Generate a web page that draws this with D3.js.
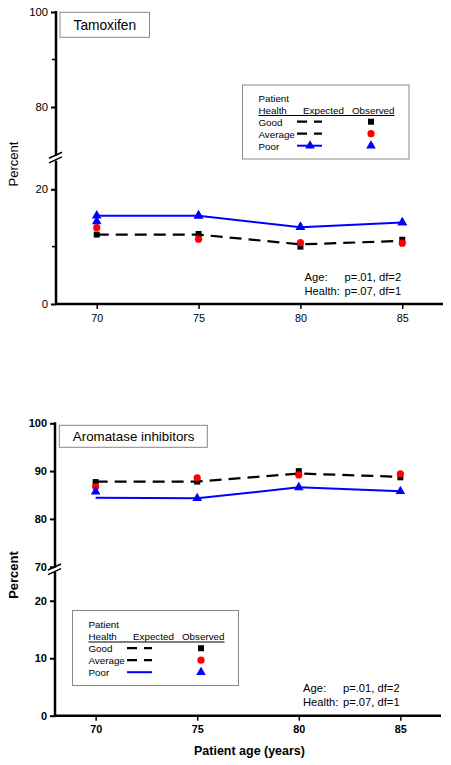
<!DOCTYPE html>
<html><head><meta charset="utf-8">
<script src="https://cdn.jsdelivr.net/npm/d3@7"></script>
<style>body{margin:0;background:#fff}svg{display:block;font-family:"Liberation Sans",Arial,sans-serif}</style>
</head><body><svg id="c" width="451" height="765"></svg>
<script>
// ---------- data ----------
const ages = [70, 75, 80, 85];
const xTicks = [70, 75, 80, 85];
const healthLabels = ["Good", "Average", "Poor"];
const statsLines = [["Age:", "p=.01, df=2"], ["Health:", "p=.07, df=1"]];

// Tamoxifen
const tamExpGoodAvg = [12.1, 12.1, 10.4, 11.0];
const tamExpPoor    = [15.4, 15.4, 13.4, 14.2];
const tamObsGood    = [12.1, 12.2, 10.0, 11.2];
const tamObsAverage = [13.3, 11.3, 10.7, 10.6];
const tamObsPoor    = [14.4, 15.4, 13.4, 14.2];
const tamTicksUpper = [100, 80];
const tamTicksUpperMinor = [90];
const tamTicksLower = [20, 0];
const tamTicksLowerMinor = [10];

// Aromatase inhibitors
const aiExpGoodAvg = [87.8, 87.8, 89.5, 88.8];
const aiExpPoor    = [84.4, 84.3, 86.6, 85.8];
const aiObsGood    = [87.7, 87.8, 90.0, 88.7];
const aiObsAverage = [86.7, 88.6, 89.2, 89.4];
const aiObsPoor    = [85.7, 84.3, 86.6, 85.8];
const aiTicksUpper = [100, 90, 80, 70];
const aiTicksLower = [20, 10, 0];

const svg = d3.select("#c");
const BLUE = "#0000ff", RED = "#ff0000";
const FF = '"Liberation Sans",Arial,sans-serif';

function fit(t, w) {
  const l = t.node().getComputedTextLength();
  if (l > 0) t.attr("font-size", (+t.attr("font-size")) * w / l);
  return t;
}

function panel(o) {
  const g = svg.append("g");
  const x = d3.scaleLinear().domain([68, 87]).range([o.axX, o.xEnd]);
  const yU = d3.scaleLinear().domain([70, 100]).range([o.y70, o.y100]);
  const yL = d3.scaleLinear().domain([0, 25]).range([o.y0, o.y25]);
  const y = v => v >= 50 ? yU(v) : yL(v);
  const fw = o.bold ? "bold" : "normal";

  // y axis segments
  const mk = (scale, ticks, minor) => {
    const a = g.append("g").attr("transform", `translate(${o.axX},0)`)
      .call(d3.axisLeft(scale).tickValues(ticks).tickSize(5).tickPadding(3).tickFormat(d3.format("d")));
    a.select(".domain").remove();
    a.selectAll(".tick line").attr("stroke", "#000").attr("stroke-width", 2);
    a.selectAll(".tick text").attr("font-size", o.bold ? 11 : 11.3).attr("font-weight", fw).attr("fill", "#000")
      .attr("font-family", FF);
    if (minor) minor.forEach(v => g.append("line").attr("x1", o.axX - 4).attr("x2", o.axX)
      .attr("y1", scale(v)).attr("y2", scale(v)).attr("stroke", "#000").attr("stroke-width", 1.5));
  };
  mk(yU, o.ticksU, o.minorU);
  mk(yL, o.ticksL, o.minorL);
  g.append("line").attr("x1", o.axX).attr("x2", o.axX).attr("y1", yU(100) - 1).attr("y2", yU(70) + 1)
    .attr("stroke", "#000").attr("stroke-width", 2.5);
  g.append("line").attr("x1", o.axX).attr("x2", o.axX).attr("y1", yL(25)).attr("y2", yL(0) + 1)
    .attr("stroke", "#000").attr("stroke-width", 2.5);
  // break marks
  const bm = (yU(70) + yL(25)) / 2;
  [-2.3, 2.3].forEach(d => g.append("line").attr("x1", o.axX - 7).attr("x2", o.axX + 6)
    .attr("y1", bm + d + 3).attr("y2", bm + d - 3).attr("stroke", "#000").attr("stroke-width", 1.5));

  // x axis
  const ax = g.append("g").attr("transform", `translate(0,${o.y0})`)
    .call(d3.axisBottom(x).tickValues(xTicks).tickSize(5).tickPadding(5).tickFormat(d3.format("d")));
  ax.select(".domain").remove();
  ax.selectAll(".tick line").attr("stroke", "#000").attr("stroke-width", 1.5);
  ax.selectAll(".tick text").attr("font-size", 10.8).attr("font-weight", fw).attr("fill", "#000")
    .attr("font-family", FF);
  g.append("line").attr("x1", o.axX).attr("x2", o.xEnd).attr("y1", o.y0).attr("y2", o.y0)
    .attr("stroke", "#000").attr("stroke-width", 2.5);

  // lines
  const line = d3.line().x((d, i) => x(ages[i])).y(d => y(d));
  g.append("path").attr("d", line(o.expGA)).attr("fill", "none").attr("stroke", "#000")
    .attr("stroke-width", 2.2).attr("stroke-dasharray", "12,7");
  g.append("path").attr("d", line(o.expP)).attr("fill", "none").attr("stroke", BLUE).attr("stroke-width", 2);

  const tri = d3.symbol().type(d3.symbolTriangle).size(40);
  const sq = d3.symbol().type(d3.symbolSquare).size(36);
  if (o.lineMarkers) o.expP.forEach((v, i) => g.append("path").attr("d", tri())
    .attr("transform", `translate(${x(ages[i])},${y(v)})`).attr("fill", BLUE));
  o.obsGood.forEach((v, i) => g.append("path").attr("d", sq())
    .attr("transform", `translate(${x(ages[i])},${y(v)})`).attr("fill", "#000"));
  o.obsAvg.forEach((v, i) => g.append("circle").attr("cx", x(ages[i])).attr("cy", y(v)).attr("r", 3.6).attr("fill", RED));
  o.obsPoor.forEach((v, i) => g.append("path").attr("d", tri())
    .attr("transform", `translate(${x(ages[i])},${y(v)})`).attr("fill", BLUE));

  // title box
  g.append("rect").attr("x", o.tb[0]).attr("y", o.tb[1]).attr("width", o.tb[2]).attr("height", o.tb[3])
    .attr("fill", "#fff").attr("stroke", "#888").attr("stroke-width", 1);
  fit(g.append("text").attr("x", o.tb[0] + 13.5).attr("y", o.tb[1] + o.tb[3] / 2 + 5)
    .attr("font-size", 13.5).text(o.title), o.titleW);

  // legend
  const L = o.leg, fs = 9.8;
  g.append("rect").attr("x", L.x).attr("y", L.y).attr("width", L.w).attr("height", L.h)
    .attr("fill", "#fff").attr("stroke", "#888").attr("stroke-width", 1);
  const tx = L.x + 16, b0 = L.y + L.b;
  g.append("text").attr("x", tx).attr("y", b0).attr("font-size", fs).text("Patient");
  g.append("text").attr("x", tx).attr("y", b0 + 12).attr("font-size", fs).text("Health");
  g.append("text").attr("x", tx + 44.5).attr("y", b0 + 12).attr("font-size", fs).text("Expected");
  g.append("text").attr("x", tx + 93.5).attr("y", b0 + 12).attr("font-size", fs).text("Observed");
  g.append("line").attr("x1", tx).attr("x2", tx + 136).attr("y1", b0 + 14).attr("y2", b0 + 14).attr("stroke", "#000").attr("stroke-width", 1);
  healthLabels.forEach((h, i) => {
    const by = b0 + 24 + i * 12, cy = by - 3.8;
    g.append("text").attr("x", tx).attr("y", by).attr("font-size", fs).text(h);
    const lx = tx + 38.5;
    if (i < 2) {
      g.append("line").attr("x1", lx).attr("x2", lx + 25).attr("y1", cy).attr("y2", cy)
        .attr("stroke", "#000").attr("stroke-width", 2.2).attr("stroke-dasharray", "10,7");
    } else {
      g.append("line").attr("x1", lx).attr("x2", lx + 25).attr("y1", cy).attr("y2", cy)
        .attr("stroke", BLUE).attr("stroke-width", 2);
      if (o.lineMarkers) g.append("path").attr("d", tri()).attr("transform", `translate(${lx + 13},${cy})`).attr("fill", BLUE);
    }
    const mx = tx + 112.5;
    if (i === 0) g.append("path").attr("d", sq()).attr("transform", `translate(${mx},${cy})`).attr("fill", "#000");
    if (i === 1) g.append("circle").attr("cx", mx).attr("cy", cy).attr("r", 3.6).attr("fill", RED);
    if (i === 2) g.append("path").attr("d", tri()).attr("transform", `translate(${mx},${cy})`).attr("fill", BLUE);
  });

  // stats
  statsLines.forEach((s, i) => {
    g.append("text").attr("x", o.st[0]).attr("y", o.st[1] + i * 14).attr("font-size", 11.2).text(s[0]);
    g.append("text").attr("x", o.st[0] + 40).attr("y", o.st[1] + i * 14).attr("font-size", 11.2).text(s[1]);
  });

  // y label
  g.append("text").attr("transform", `translate(${o.ylab[0]},${o.ylab[1]}) rotate(-90)`)
    .attr("text-anchor", "middle").attr("font-size", 13).attr("font-weight", fw).text("Percent");
  return g;
}

panel({
  axX: 56, xEnd: 443, y100: 12, y70: 154.5, y0: 304, y25: 160.6, bold: false,
  ticksU: tamTicksUpper, minorU: tamTicksUpperMinor, ticksL: tamTicksLower, minorL: tamTicksLowerMinor,
  expGA: tamExpGoodAvg, expP: tamExpPoor, obsGood: tamObsGood, obsAvg: tamObsAverage, obsPoor: tamObsPoor,
  lineMarkers: true, title: "Tamoxifen", titleW: 62.7, tb: [60, 12.3, 89.5, 25],
  leg: { x: 242.5, y: 85, w: 166.5, h: 74, b: 16.5 }, st: [304.5, 281], ylab: [17.5, 164]
});
panel({
  axX: 55, xEnd: 441, y100: 423.3, y70: 566.7, y0: 715.7, y25: 572, bold: true,
  ticksU: aiTicksUpper, ticksL: aiTicksLower,
  expGA: aiExpGoodAvg, expP: aiExpPoor, obsGood: aiObsGood, obsAvg: aiObsAverage, obsPoor: aiObsPoor,
  lineMarkers: false, title: "Aromatase inhibitors", titleW: 121.7, tb: [59.3, 425.3, 148, 22],
  leg: { x: 72.5, y: 610.5, w: 166, h: 75, b: 17.5 }, st: [303, 692], ylab: [17.5, 575]
});
fit(svg.append("text").attr("x", 249.5).attr("y", 755).attr("text-anchor", "middle")
  .attr("font-size", 12.5).attr("font-weight", "bold").text("Patient age (years)"), 111);
</script></body></html>
